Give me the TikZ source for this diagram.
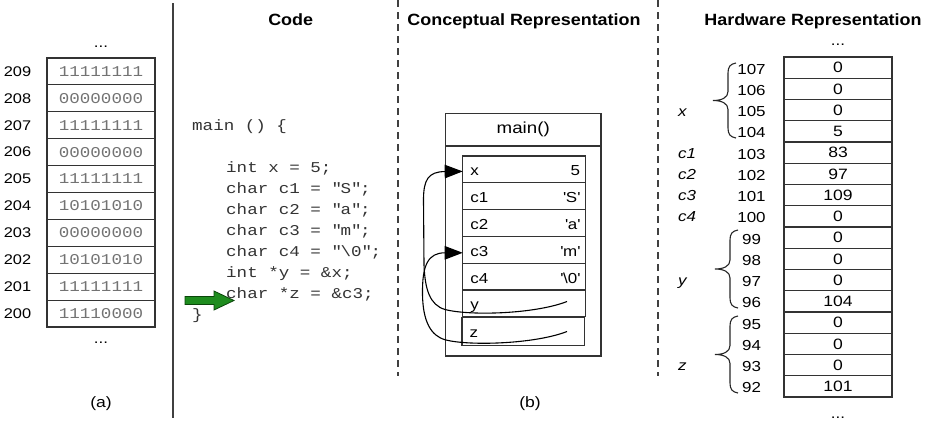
\documentclass[tikz,border=0pt]{standalone}
\usepackage{fontspec}
\setmainfont{Liberation Sans}[FakeStretch=1.17]
\newfontfamily\hdrfont{Liberation Sans}[FakeStretch=1.1]
\newfontfamily\codefont{Liberation Mono}[FakeStretch=1.17]
\usetikzlibrary{arrows.meta}
\definecolor{arrowgreen}{RGB}{30,140,30}
\definecolor{arrowdark}{RGB}{10,70,10}
\newcommand\myfs[1]{\fontsize{#1}{#1}\selectfont}
\newcommand\sq{\textquotesingle}
\newcommand\hwbrace[3]{%
  \draw[bracestyle] (#1,#2) .. controls ({#1-6},{#2+1}) and ({#1-8},{#2+4}) .. ({#1-8},{#2+10})
   -- ({#1-8},{(#2+#3)/2-9}) .. controls ({#1-8},{(#2+#3)/2-3}) and ({#1-14},{(#2+#3)/2}) .. ({#1-23},{(#2+#3)/2})
   .. controls ({#1-14},{(#2+#3)/2}) and ({#1-8},{(#2+#3)/2+3}) .. ({#1-8},{(#2+#3)/2+9})
   -- ({#1-8},{#3-10}) .. controls ({#1-8},{#3-4}) and ({#1-6},{#3-1}) .. (#1,#3);}
\begin{document}
\begin{tikzpicture}[x=1pt,y=-1pt,
  cell/.style={draw=black!80, line width=1.1pt, inner sep=0pt, outer sep=0pt},
  memcell/.style={cell, minimum width=108pt, minimum height=26.9pt, font=\codefont\myfs{15}, text=black!55},
  hwcell/.style={cell, minimum width=108pt, minimum height=21.25pt, font=\myfs{15}},
  crow/.style={cell, minimum width=123pt, minimum height=26.8pt},
  lbl/.style={inner sep=0pt, font=\myfs{14.5}},
  varlbl/.style={inner sep=0pt, anchor=base west, font=\itshape\myfs{14.5}},
  hdr/.style={inner sep=0pt, anchor=base, font=\hdrfont\bfseries\myfs{16.3}},
  codeline/.style={inner sep=0pt, anchor=base west, font=\codefont\myfs{15}, text=black!80},
  ptr/.style={draw=black, line width=1.1pt, -{Triangle[length=18pt,width=13.5pt]}},
  colsep/.style={draw=black!75, line width=1.4pt, dash pattern=on 7pt off 5pt},
  bracestyle/.style={draw=black!85, line width=1.1pt},
]
\useasboundingbox (0,0) rectangle (925,424);

% separators
\draw[draw=black!75, line width=1.6pt] (173,3) -- (173,418);
\draw[colsep] (398,0) -- (398,376);
\draw[colsep] (658,0) -- (658,376);

% headers
\node[hdr] (hcode) at (290.7,25) {Code};
\node[hdr] (hconc) at (524,25) {Conceptual Representation};
\node[hdr] (hhw) at (813,25) {Hardware Representation};

% (a) memory column
\node[lbl, anchor=base] (adots) at (101,47) {...};
\foreach \a/\b [count=\i from 0] in {209/11111111, 208/00000000, 207/11111111, 206/00000000, 205/11111111, 204/10101010, 203/00000000, 202/10101010, 201/11111111, 200/11110000} {
  \node[memcell] (mem\i) at (101, {58+26.9*(\i+0.5)}) {\b};
  \node[lbl, font=\myfs{14}] (addr\i) at (17.5, {58+26.9*(\i+0.5)}) {\a};
}
\node[lbl, anchor=base] (adots2) at (101,343) {...};
\node[lbl, anchor=base, font=\myfs{15}] (alab) at (101,407) {(a)};

% code
\node[codeline] (l0) at (192,130) {main () \{};
\node[codeline] (l1) at (226,172) {int x = 5;};
\node[codeline] (l2) at (226,193) {char c1 = \textquotedbl S\textquotedbl;};
\node[codeline] (l3) at (226,214) {char c2 = \textquotedbl a\textquotedbl;};
\node[codeline] (l4) at (226,235) {char c3 = \textquotedbl m\textquotedbl;};
\node[codeline] (l5) at (226,256) {char c4 = \textquotedbl\textbackslash 0\textquotedbl;};
\node[codeline] (l6) at (226,277) {int *y = \&x;};
\node[codeline] (l7) at (226,298) {char *z = \&c3;};
\node[codeline] (l8) at (192,319) {\}};
\filldraw[fill=arrowgreen, draw=arrowdark, line width=0.8pt]
  (185,296.5) -- (214,296.5) -- (214,291) -- (234,300.5) -- (214,310) -- (214,304.5) -- (185,304.5) -- cycle;

% conceptual representation
\node[cell, minimum width=155.5pt, minimum height=242.5pt] (frame) at (523.25,234.75) {};
\node[cell, minimum width=155.5pt, minimum height=32.5pt, anchor=north, font=\myfs{16}] (framehead) at (frame.north) {main()};
\foreach \l/\v [count=\i from 0] in {x/5, c1/{\sq S\sq}, c2/{\sq a\sq}, c3/{\sq m\sq}, c4/{\sq\textbackslash 0\sq}, y/{}} {
  \node[crow] (crow\i) at (524.2, {156+26.8*(\i+0.5)}) {};
  \node[lbl, anchor=base west] (clab\i) at ([xshift=7.5pt,yshift=-6.5pt]crow\i.west) {\l};
  \node[lbl, anchor=base east] (cval\i) at ([xshift=-5.5pt,yshift=-6.5pt]crow\i.east) {\v};
}
\node[crow, minimum width=122.5pt, minimum height=27.7pt] (zrow) at (523.2,331.2) {};
\node[lbl, anchor=base west] (zlab) at ([xshift=7.5pt,yshift=-6pt]zrow.west) {z};
\coordinate (ystart) at (567,301.5);
\coordinate (zstart) at (567,331.5);
\draw[ptr] (ystart) .. controls (535,314) and (470,316) .. (445,309.5)
  .. controls (430,305) and (425,290) .. (424,265) -- (423.5,200)
  .. controls (423.5,180) and (428,171.7) .. ([yshift=-2pt]crow0.west);
\draw[ptr] (zstart) .. controls (535,344) and (470,346) .. (446,340)
  .. controls (430,336) and (423,320) .. (422.5,295)
  .. controls (422,265) and (428,252.8) .. ([yshift=-3pt]crow3.west);
\node[lbl, anchor=base, font=\myfs{15}] (blab) at (530,407) {(b)};

% hardware representation
\node[lbl, anchor=base] (hdots) at (838,45) {...};
\foreach \v [count=\i from 0] in {0,0,0,5,83,97,109,0,0,0,0,104,0,0,0,101} {
  \node[hwcell] (hw\i) at (838, {57+21.25*(\i+0.5)}) {\v};
}
\foreach \a [count=\i from 0] in {107,106,105,104,103,102,101,100,99,98,97,96,95,94,93,92} {
  \node[lbl] (hwa\i) at (751.5, {57+21.25*(\i+0.5)+1.5}) {\a};
}
\node[lbl, anchor=base] (hdots2) at (838,418) {...};
\hwbrace{736}{63}{138}
\hwbrace{738}{230}{308}
\hwbrace{738}{316}{393}
\node[varlbl] (vx) at (678,116) {x};
\node[varlbl] (vc1) at (678,158) {c1};
\node[varlbl] (vc2) at (678,179) {c2};
\node[varlbl] (vc3) at (678,200) {c3};
\node[varlbl] (vc4) at (678,221) {c4};
\node[varlbl] (vy) at (678,285) {y};
\node[varlbl] (vz) at (678,370) {z};
\end{tikzpicture}
\end{document}
